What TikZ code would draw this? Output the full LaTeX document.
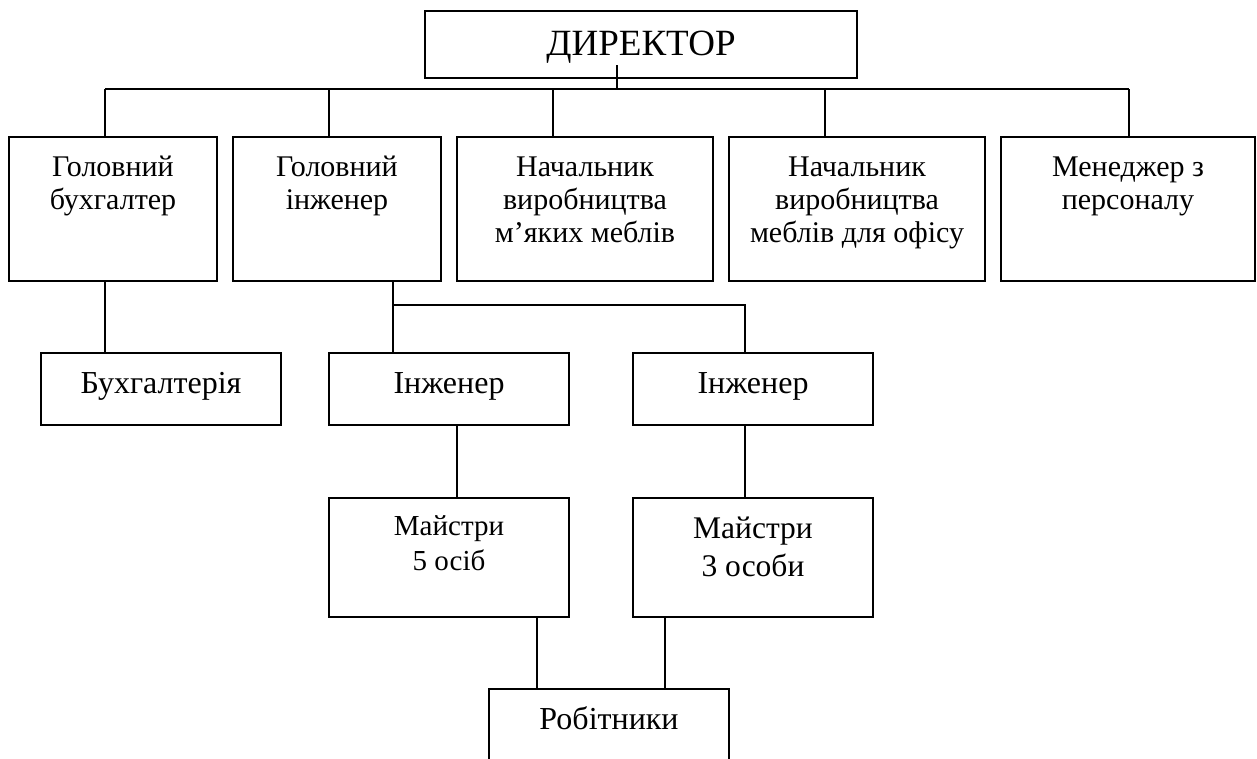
\documentclass[tikz,border=0pt]{standalone}
\usepackage{fontspec}
\setmainfont{Liberation Serif}
\begin{document}
\begin{tikzpicture}[x=1pt,y=-1pt,
  box/.style={draw,line width=1.8pt,inner sep=0pt,outer sep=0pt},
  lbl/.style={anchor=north,inner sep=0pt,align=center,font=\fontsize{30}{33}\selectfont},
  lblb/.style={lbl,font=\fontsize{32}{38}\selectfont},
  con/.style={line width=1.8pt}]
\useasboundingbox (0,0) rectangle (1257,758);
\clip (0,0) rectangle (1257,758);
% boxes
\node[box,minimum width=432,minimum height=67] (dir) at (641,44.5) {};
\node[box,minimum width=208,minimum height=144] (b1) at (113,209) {};
\node[box,minimum width=208,minimum height=144] (b2) at (337,209) {};
\node[box,minimum width=256,minimum height=144] (b3) at (585,209) {};
\node[box,minimum width=256,minimum height=144] (b4) at (857,209) {};
\node[box,minimum width=254,minimum height=144] (b5) at (1128,209) {};
\node[box,minimum width=240,minimum height=72] (bk) at (161,389) {};
\node[box,minimum width=240,minimum height=72] (e1) at (449,389) {};
\node[box,minimum width=240,minimum height=72] (e2) at (753,389) {};
\node[box,minimum width=240,minimum height=119] (m1) at (449,557.5) {};
\node[box,minimum width=240,minimum height=119] (m2) at (753,557.5) {};
\node[box,minimum width=240,minimum height=100] (r) at (609,739) {};
% texts
\node[lbl,font=\fontsize{37}{44}\selectfont] (tdir) at ([yshift=-13]dir.north) {\strut ДИРЕКТОР};
\node[lbl] (t1) at ([yshift=-16]b1.north) {\strut Головний\\бухгалтер};
\node[lbl] (t2) at ([yshift=-16]b2.north) {\strut Головний\\інженер};
\node[lbl] (t3) at ([yshift=-16]b3.north) {\strut Начальник\\виробництва\\м’яких меблів};
\node[lbl] (t4) at ([yshift=-16]b4.north) {\strut Начальник\\виробництва\\меблів для офісу};
\node[lbl] (t5) at ([yshift=-16]b5.north) {\strut Менеджер з\\персоналу};
\node[lblb] (tbk) at ([yshift=-13.4]bk.north) {\strut Бухгалтерія};
\node[lblb] (te1) at ([yshift=-13.4]e1.north) {\strut Інженер};
\node[lblb] (te2) at ([yshift=-13.4]e2.north) {\strut Інженер};
\node[lbl,font=\fontsize{29}{35}\selectfont] (tm1) at ([yshift=-12.5]m1.north) {\strut Майстри\\5 осіб};
\node[lbl,font=\fontsize{31.5}{38}\selectfont] (tm2) at ([yshift=-13.4]m2.north) {\strut Майстри\\3 особи};
\node[lblb] (tr) at ([yshift=-13.4]r.north) {\strut Робітники};
% connectors
\coordinate (dc) at (617,65);
\coordinate (busL) at (105,89);
\coordinate (busR) at (1129,89);
\draw[con] (dc) -- (dc |- busL);
\draw[con] (busL) -- (busR);
\draw[con] (busL) -- (busL |- b1.north);
\draw[con] ([xshift=-8]b2.north) -- ([xshift=-8]b2.north |- busL);
\draw[con] ([xshift=-32]b3.north) -- ([xshift=-32]b3.north |- busL);
\draw[con] ([xshift=-32]b4.north) -- ([xshift=-32]b4.north |- busL);
\draw[con] (busR) -- (busR |- b5.north);
\draw[con] ([xshift=-8]b1.south) -- ([xshift=-8]b1.south |- bk.north);
\coordinate (brL) at ([xshift=56,yshift=-24]b2.south);
\coordinate (brR) at ([xshift=-8]e2.north |- brL);
\draw[con] ([xshift=56]b2.south) -- ([xshift=56]b2.south |- e1.north);
\draw[con] (brL) -- (brR) -- ([xshift=-8]e2.north);
\draw[con] ([xshift=8]e1.south) -- ([xshift=8]e1.south |- m1.north);
\draw[con] ([xshift=-8]e2.south) -- ([xshift=-8]e2.south |- m2.north);
\draw[con] ([xshift=88]m1.south) -- ([xshift=88]m1.south |- r.north);
\draw[con] ([xshift=-88]m2.south) -- ([xshift=-88]m2.south |- r.north);
\end{tikzpicture}
\end{document}
